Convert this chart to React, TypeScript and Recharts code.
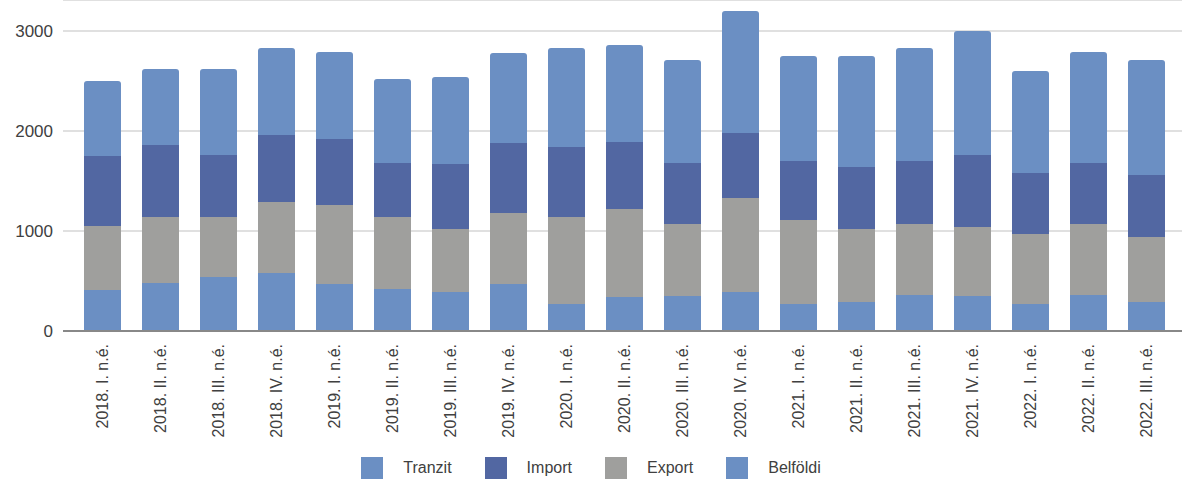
import { BarChart, Bar, XAxis, YAxis, CartesianGrid, Legend } from "recharts"

const quarters = [
  "2018. I. n.é.", "2018. II. n.é.", "2018. III. n.é.", "2018. IV. n.é.",
  "2019. I. n.é.", "2019. II. n.é.", "2019. III. n.é.", "2019. IV. n.é.",
  "2020. I. n.é.", "2020. II. n.é.", "2020. III. n.é.", "2020. IV. n.é.",
  "2021. I. n.é.", "2021. II. n.é.", "2021. III. n.é.", "2021. IV. n.é.",
  "2022. I. n.é.", "2022. II. n.é.", "2022. III. n.é.",
]

// stacked bottom -> top: Tranzit, Export, Import, Belföldi
const tranzit = [410, 480, 540, 580, 470, 420, 390, 470, 270, 340, 350, 390, 270, 290, 360, 350, 270, 360, 290]
const exportVals = [640, 660, 600, 710, 790, 720, 630, 710, 870, 880, 720, 940, 840, 730, 710, 690, 700, 710, 650]
const importVals = [700, 720, 620, 670, 660, 540, 650, 700, 700, 670, 610, 650, 590, 620, 630, 720, 610, 610, 620]
const belfoldi = [750, 760, 860, 870, 870, 840, 870, 900, 990, 970, 1030, 1220, 1050, 1110, 1130, 1240, 1020, 1110, 1150]

const yTicks = [0, 1000, 2000, 3000]

const legendNames = ["Tranzit", "Import", "Export", "Belföldi"]
const legendColors = ["#6b8fc3", "#5267a2", "#9f9f9d", "#6b8fc3"]

const data = quarters.map((q, i) => ({
  name: q,
  tranzit: tranzit[i],
  export: exportVals[i],
  import: importVals[i],
  belfoldi: belfoldi[i],
}))

const font = "'Liberation Sans', Arial, sans-serif"

function QuarterTick(props: any) {
  const { x, y, payload } = props
  return (
    <g transform={`translate(${x},${y})`}>
      <text transform="rotate(-90)" x={-11} y={0} dy="0.35em" textAnchor="end" fill="#404040" fontSize={16} fontFamily={font}>
        {payload.value}
      </text>
    </g>
  )
}

function LegendBox() {
  return (
    <div style={{ display: "flex", justifyContent: "center", alignItems: "center", height: 40, fontFamily: font, fontSize: 16, color: "#404040" }}>
      {legendNames.map((n, i) => (
        <div key={n} style={{ display: "flex", alignItems: "center", marginRight: i < legendNames.length - 1 ? 33 : 0 }}>
          <span style={{ width: 22, height: 22, background: legendColors[i], display: "inline-block", marginRight: 20 }} />
          <span>{n}</span>
        </div>
      ))}
    </div>
  )
}

export default function App() {
  return (
    <div style={{ position: "absolute", left: 0, top: 0, background: "#fff" }}>
      <BarChart width={1182} height={488} data={data} margin={{ top: 0, right: 0, left: 0, bottom: 0 }} barSize={37}>
        <CartesianGrid vertical={false} stroke="#d6d6d6" strokeWidth={1.5} />
        <XAxis
          dataKey="name"
          interval={0}
          height={117}
          padding={{ left: 10, right: 7 }}
          tick={<QuarterTick />}
          tickLine={false}
          tickSize={0}
          axisLine={{ stroke: "#888888", strokeWidth: 2 }}
        />
        <YAxis
          width={63}
          domain={[0, 3310]}
          ticks={yTicks}
          allowDataOverflow
          axisLine={false}
          tickLine={false}
          tickSize={0}
          tickMargin={10}
          tick={{ fill: "#404040", fontSize: 17, fontFamily: font }}
        />
        <Legend verticalAlign="bottom" content={<LegendBox />} />
        <Bar dataKey="tranzit" name="Tranzit" stackId="a" fill="#6b8fc3" isAnimationActive={false} />
        <Bar dataKey="export" name="Export" stackId="a" fill="#9f9f9d" isAnimationActive={false} />
        <Bar dataKey="import" name="Import" stackId="a" fill="#5267a2" isAnimationActive={false} />
        <Bar dataKey="belfoldi" name="Belföldi" stackId="a" fill="#6b8fc3" radius={[3, 3, 0, 0]} isAnimationActive={false} />
      </BarChart>
    </div>
  )
}
